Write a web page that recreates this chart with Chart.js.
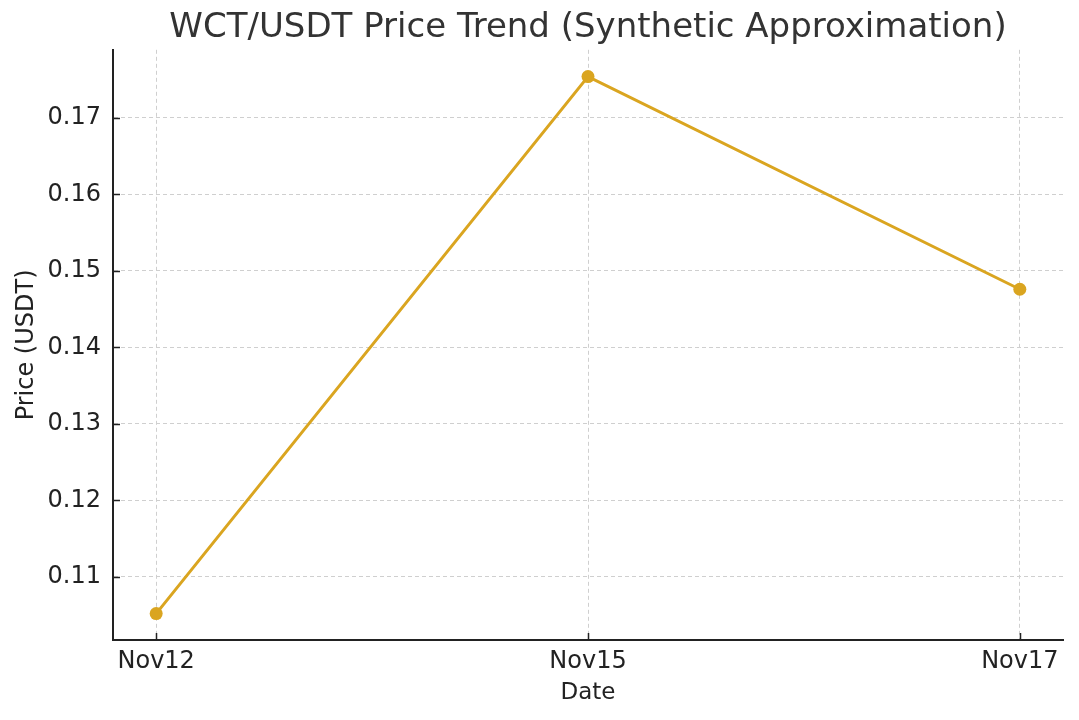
<!DOCTYPE html>
<html lang="en">
<head>
    <meta charset="UTF-8">
    <title>WCT/USDT Price Trend</title>
    <script src="https://cdn.jsdelivr.net/npm/chart.js@4/dist/chart.umd.min.js"></script>
    <style>
        html, body {
            margin: 0;
            padding: 0;
            background: #ffffff;
        }

        .wrap {
            width: 1079px;
            height: 720px;
        }
    </style>
</head>
<body>
<div class="wrap">
    <canvas id="chart" width="1079" height="720"></canvas>
</div>
<script>
    var dates = ["Nov12", "Nov15", "Nov17"];
    var prices = [0.1052, 0.1754, 0.1476];
    var yTicks = [0.11, 0.12, 0.13, 0.14, 0.15, 0.16, 0.17];

    var FONT = "'DejaVu Sans', sans-serif";
    var LINE = "#DAA520";

    var points = [];
    for (var i = 0; i < dates.length; i++) {
        points.push({x: i, y: prices[i]});
    }

    // small inward tick marks like the original axes
    var innerTicks = {
        id: 'innerTicks',
        afterDraw: function (chart) {
            var ctx = chart.ctx;
            var area = chart.chartArea;
            var xs = chart.scales.x, ys = chart.scales.y;
            ctx.save();
            ctx.strokeStyle = '#222';
            ctx.lineWidth = 1.5;
            ctx.beginPath();
            xs.ticks.forEach(function (t) {
                var px = Math.round(xs.getPixelForValue(t.value)) + 0.5;
                ctx.moveTo(px, area.bottom);
                ctx.lineTo(px, area.bottom - 7);
            });
            ys.ticks.forEach(function (t) {
                var py = Math.round(ys.getPixelForValue(t.value)) + 0.5;
                ctx.moveTo(area.left, py);
                ctx.lineTo(area.left + 7, py);
            });
            ctx.stroke();
            ctx.restore();
        }
    };

    new Chart(document.getElementById('chart').getContext('2d'), {
        type: 'line',
        data: {
            datasets: [{
                data: points,
                borderColor: LINE,
                backgroundColor: LINE,
                borderWidth: 3,
                pointRadius: 6.5,
                pointHoverRadius: 6.5,
                pointBorderWidth: 0,
                tension: 0
            }]
        },
        options: {
            responsive: false,
            animation: false,
            layout: {padding: {left: 0, right: 16, top: 0, bottom: 0}},
            plugins: {
                legend: {display: false},
                tooltip: {enabled: false},
                title: {
                    display: true,
                    fullSize: false,
                    text: 'WCT/USDT Price Trend (Synthetic Approximation)',
                    color: '#333',
                    font: {family: FONT, size: 34, weight: 'normal'},
                    padding: {top: 8, bottom: 1}
                }
            },
            scales: {
                x: {
                    type: 'linear',
                    min: -0.1,
                    max: 2.1,
                    afterBuildTicks: function (scale) {
                        scale.ticks = dates.map(function (d, i) { return {value: i}; });
                    },
                    afterFit: function (scale) { scale.height = 80; },
                    ticks: {
                        color: '#222',
                        font: {family: FONT, size: 24},
                        padding: 7,
                        maxRotation: 0,
                        callback: function (v) { return dates[v]; }
                    },
                    grid: {color: '#cfcfcf', drawTicks: false, lineWidth: 1},
                    border: {display: true, color: '#222', width: 2, dash: [4, 3]},
                    title: {
                        display: true,
                        text: 'Date',
                        color: '#222',
                        font: {family: FONT, size: 23},
                        padding: {top: 0, bottom: 13}
                    }
                },
                y: {
                    min: 0.10175,
                    max: 0.1789,
                    afterBuildTicks: function (scale) {
                        scale.ticks = yTicks.map(function (v) { return {value: v}; });
                    },
                    afterFit: function (scale) { scale.width = 113; },
                    ticks: {
                        color: '#222',
                        font: {family: FONT, size: 24},
                        padding: 12,
                        callback: function (v) { return v.toFixed(2); }
                    },
                    grid: {color: '#cfcfcf', drawTicks: false, lineWidth: 1},
                    border: {display: true, color: '#222', width: 2, dash: [4, 3]},
                    title: {
                        display: true,
                        text: 'Price (USDT)',
                        color: '#222',
                        font: {family: FONT, size: 24},
                        padding: {top: 12, bottom: 0}
                    }
                }
            }
        },
        plugins: [innerTicks]
    });
</script>
</body>
</html>
